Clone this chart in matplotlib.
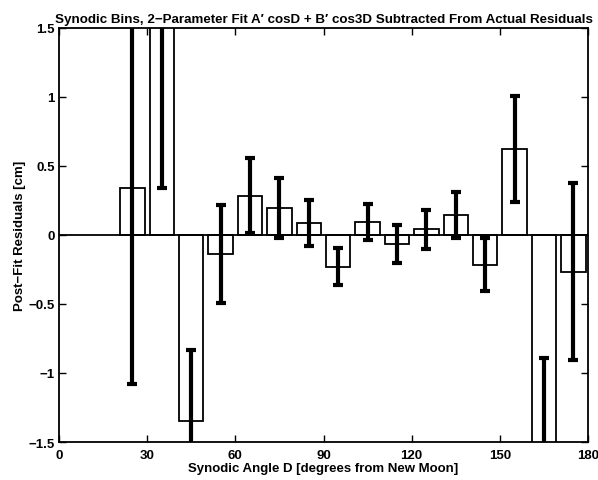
import matplotlib
matplotlib.use("Agg")
import matplotlib.pyplot as plt
import numpy as np

# bin centres (degrees) and post-fit residuals (cm)
angle = [25, 35, 45, 55, 65, 75, 85, 95, 105, 115, 125, 135, 145, 155, 165, 175]
resid = [0.34, 2.2, -1.35, -0.135, 0.285, 0.195, 0.085, -0.23, 0.095, -0.065,
         0.04, 0.145, -0.215, 0.62, -2.2, -0.265]
err = [1.42, 1.86, 0.52, 0.355, 0.27, 0.215, 0.165, 0.135, 0.13, 0.138,
       0.14, 0.165, 0.19, 0.385, 1.31, 0.64]

xticks = [0, 30, 60, 90, 120, 150, 180]
yticks = [-1.5, -1, -0.5, 0, 0.5, 1, 1.5]
ylabels = ['\u22121.5', '\u22121', '\u22120.5', '0', '0.5', '1', '1.5']

plt.rcParams['font.family'] = ['Liberation Sans', 'DejaVu Sans']
plt.rcParams['font.weight'] = 'bold'
plt.rcParams['axes.titleweight'] = 'bold'
plt.rcParams['axes.labelweight'] = 'bold'

fig = plt.figure(figsize=(5.98, 4.81), dpi=100)
ax = fig.add_axes([0.0987, 0.079, 0.8846, 0.861])

ax.bar(angle, resid, width=8.3, color='white', edgecolor='black', linewidth=1.3, zorder=2)
ax.axhline(0, color='black', linewidth=1.3, zorder=3)
ax.errorbar(angle, resid, yerr=err, fmt='none', ecolor='black', elinewidth=3,
            capsize=3.8, capthick=3, zorder=4)

ax.set_xlim(0, 180)
ax.set_ylim(-1.5, 1.5)
ax.set_xticks(xticks)
ax.set_yticks(yticks)
ax.set_yticklabels(ylabels)
ax.tick_params(direction='in', length=5, width=1, top=True, right=True, labelsize=9.5, pad=3)
ax.tick_params(axis='x', pad=5)
for s in ax.spines.values():
    s.set_linewidth(1.3)

ax.set_title('Synodic Bins, 2\u2212Parameter Fit A\u2032 cosD + B\u2032 cos3D Subtracted From Actual Residuals',
             fontsize=9.6, pad=4)
ax.set_xlabel('Synodic Angle D [degrees from New Moon]', fontsize=9.5, labelpad=1)
ax.set_ylabel('Post\u2212Fit Residuals [cm]', fontsize=9.5, labelpad=2)

fig.savefig('out.png', dpi=100)
